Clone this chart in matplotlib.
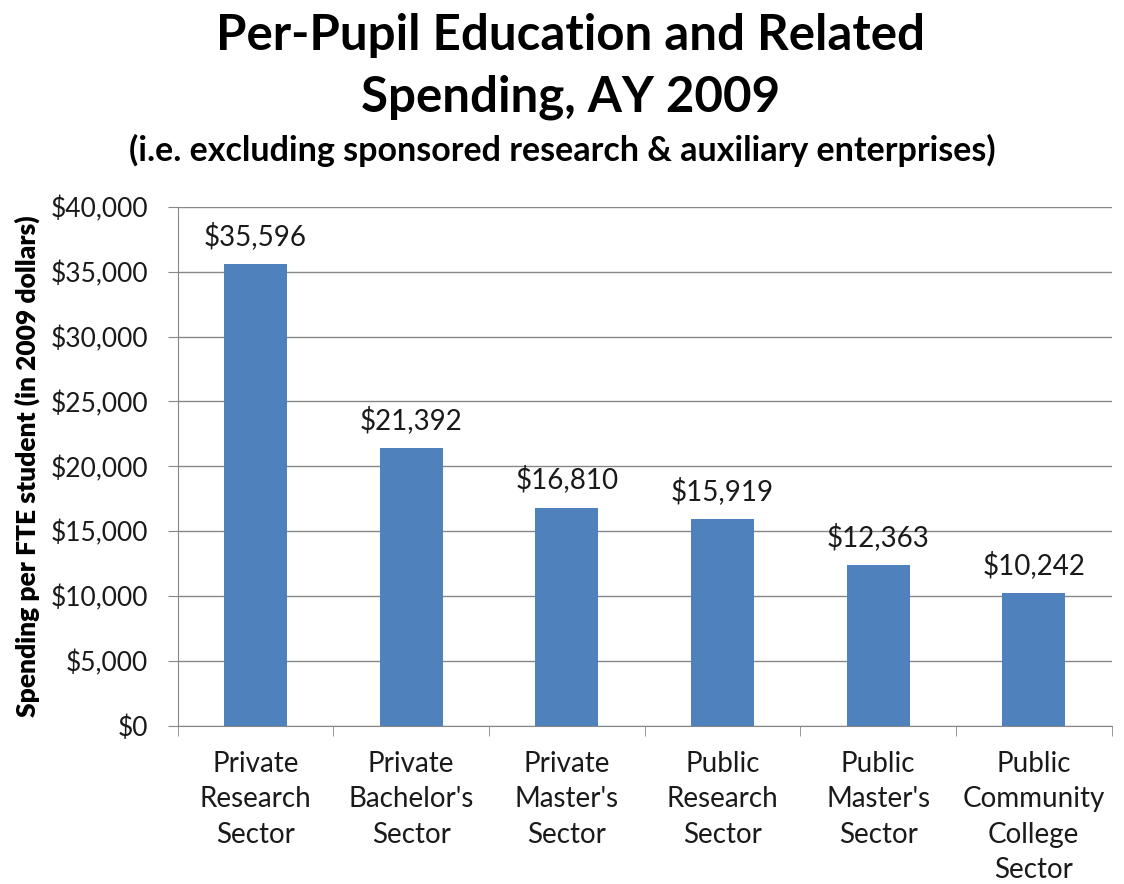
import matplotlib.pyplot as plt
from matplotlib.ticker import FuncFormatter, FixedLocator
import numpy as np

plt.rcParams['font.family'] = ['Lato', 'DejaVu Sans']

# spending per FTE student by sector, AY 2009
sectors = ["Private\nResearch\nSector", "Private\nBachelor's\nSector",
           "Private\nMaster's\nSector", "Public\nResearch\nSector",
           "Public\nMaster's\nSector", "Public\nCommunity\nCollege\nSector"]
spending = [35596, 21392, 16810, 15919, 12363, 10242]

bar_color = "#4F81BD"
grid_color = "#878787"
text_color = "#1a1a1a"

fig = plt.figure(figsize=(11.24, 8.84), dpi=100)
ax = fig.add_axes([0.158, 0.179, 0.831, 0.587])

x = np.arange(len(sectors))
ax.bar(x, spending, width=0.405, color=bar_color, zorder=3)

# value labels above bars
for xi, v in zip(x, spending):
    ax.text(xi, v + 1100, f"${v:,}", ha="center", va="bottom",
            fontsize=20, color=text_color)

ax.set_xlim(-0.5, len(sectors) - 0.5)
ax.set_ylim(0, 40000)
ax.set_yticks(np.arange(0, 40001, 5000))
ax.yaxis.set_major_formatter(FuncFormatter(lambda v, p: f"${v:,.0f}"))
ax.yaxis.grid(True, color=grid_color, linewidth=1, zorder=0)

# category labels centred, ticks on category boundaries
ax.set_xticks(x)
ax.set_xticklabels(sectors, fontsize=20, color=text_color, linespacing=1.45)
ax.tick_params(axis="x", length=0, pad=18)
ax.xaxis.set_minor_locator(FixedLocator(np.arange(-0.5, len(sectors), 1.0)))
ax.tick_params(axis="x", which="minor", length=7, color=grid_color, direction="out")
ax.tick_params(axis="y", length=7, color=grid_color, labelsize=19,
               labelcolor=text_color, pad=14)

for side in ["top", "right"]:
    ax.spines[side].set_visible(False)
for side in ["left", "bottom"]:
    ax.spines[side].set_color(grid_color)

ax.set_ylabel("Spending per FTE student (in 2009 dollars)", fontsize=19,
              fontweight="heavy")
ax.yaxis.set_label_coords(-0.147, 0.5)

fig.text(0.508, 0.985, "Per-Pupil Education and Related\nSpending, AY 2009",
         ha="center", va="top", fontsize=35.5, fontweight="bold", linespacing=1.45)
fig.text(0.50, 0.83, "(i.e. excluding sponsored research & auxiliary enterprises)",
         ha="center", va="center", fontsize=24.5, fontweight="bold")

fig.savefig("out.png", dpi=100)
